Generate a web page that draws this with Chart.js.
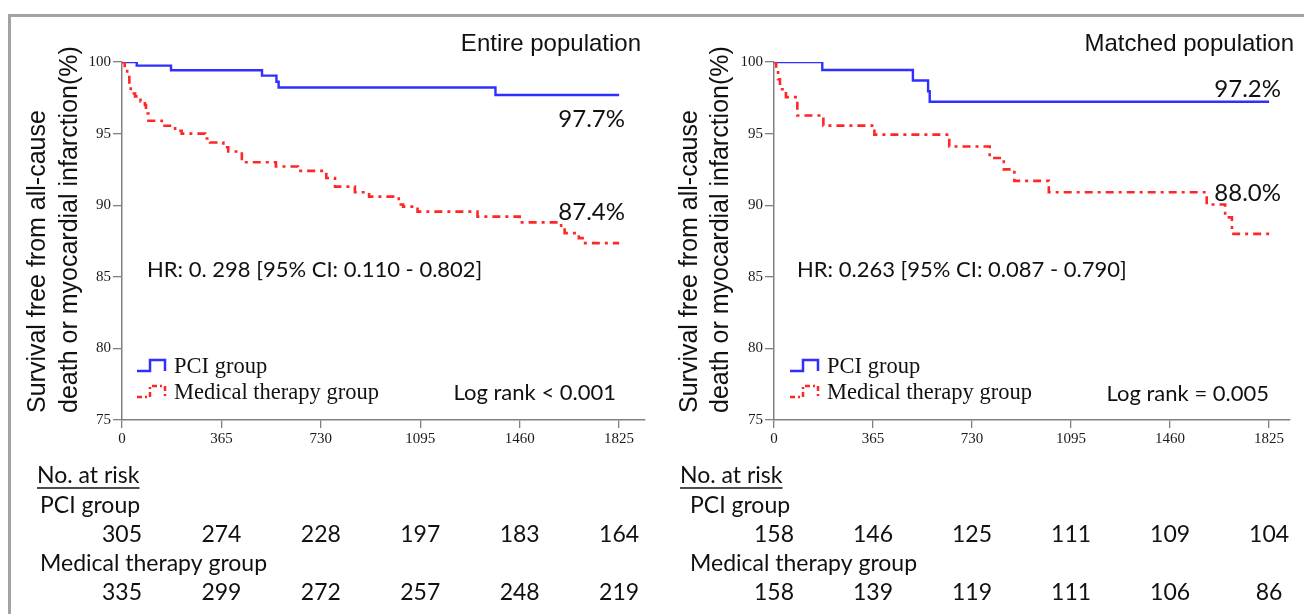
<!DOCTYPE html>
<html><head><meta charset="utf-8">
<script src="https://cdn.jsdelivr.net/npm/chart.js@4.4.1/dist/chart.umd.min.js"></script>
<style>
html,body{margin:0;padding:0;background:#fff;}
#wrap{position:relative;width:1304px;height:614px;overflow:hidden;background:#fff;}
#frame{position:absolute;left:8px;top:14px;width:1300px;height:610px;border-top:3px solid #a3a3a3;border-left:3px solid #a3a3a3;pointer-events:none;}
canvas{position:absolute;top:0;}
#c1{left:0}
#c2{left:655px}
</style></head><body>
<div id="wrap"><canvas id="c1" width="655" height="614"></canvas><canvas id="c2" width="649" height="614"></canvas><div id="frame"></div></div>
<script>
// ---------- data ----------
const timeTicks = [0, 365, 730, 1095, 1460, 1825];
const yTicks = [75, 80, 85, 90, 95, 100];

const entirePciTime = [0, 54, 180, 514, 567, 575, 1371, 1825];
const entirePciSurv = [100, 99.75, 99.42, 99.05, 98.62, 98.22, 97.7, 97.7];
const entireMedTime = [0, 10, 19, 27, 32, 48, 68, 84, 88, 97, 146, 195, 219, 305, 323, 372, 390, 440, 565, 646, 750, 782, 855, 907, 1016, 1032, 1085, 1305, 1460, 1612, 1625, 1677, 1691, 1825];
const entireMedSurv = [100, 99.6, 98.95, 98.4, 97.8, 97.6, 97.25, 97.0, 96.4, 95.9, 95.55, 95.2, 95.0, 94.66, 94.38, 94.05, 93.75, 93.0, 92.7, 92.4, 91.9, 91.3, 90.9, 90.6, 90.05, 89.9, 89.55, 89.2, 88.8, 88.4, 88.05, 87.7, 87.35, 87.35];

const matchedPciTime = [0, 178, 512, 568, 574, 1825];
const matchedPciSurv = [100, 99.44, 98.71, 97.96, 97.22, 97.22];
const matchedMedTime = [0, 8, 15, 22, 44, 86, 182, 370, 646, 795, 847, 886, 1013, 1595, 1663, 1688, 1825];
const matchedMedSurv = [100, 99.4, 98.8, 98.1, 97.55, 96.26, 95.56, 94.93, 94.1, 93.3, 92.5, 91.7, 90.9, 90.05, 89.15, 88.0, 88.0];

const entireRiskPci = [305, 274, 228, 197, 183, 164];
const entireRiskMed = [335, 299, 272, 257, 248, 219];
const matchedRiskPci = [158, 146, 125, 111, 109, 104];
const matchedRiskMed = [158, 139, 119, 111, 106, 86];

const groupNames = ['PCI group', 'Medical therapy group'];
const yTitle = ['Survival free from all-cause', 'death or myocardial infarction(%)'];

// ---------- styles ----------
const BLUE = '#2f2fff', RED = '#ff2626';
const SANS = 'Lato, "Noto Sans", sans-serif';
const ARIAL = '"Liberation Sans", Arial, sans-serif';
const SERIF = '"Liberation Serif", "Times New Roman", serif';

function pts(t, s) { return t.map((v, i) => ({x: v, y: s[i]})); }

function txt(ctx, s, x, y, font, align) {
  ctx.font = font; ctx.textAlign = align; ctx.textBaseline = 'middle';
  ctx.fillStyle = '#111'; ctx.fillText(s, x, y);
}
function stepIcon(ctx, x0, y0, color, dash, w) {
  ctx.save(); ctx.strokeStyle = color; ctx.lineWidth = w; ctx.setLineDash(dash);
  ctx.beginPath();
  ctx.moveTo(x0, y0 + 11); ctx.lineTo(x0 + 13, y0 + 11); ctx.lineTo(x0 + 13, y0);
  ctx.lineTo(x0 + 28, y0); ctx.lineTo(x0 + 28, y0 + 11);
  ctx.stroke(); ctx.restore();
}

const panelText = {
  id: 'panelText',
  afterDraw(chart, args, o) {
    const ctx = chart.ctx, xs = chart.scales.x;
    ctx.save();
    // y-axis title (two lines, rotated, bottom-aligned)
    yTitle.forEach((line, i) => {
      ctx.save();
      ctx.translate(o.ytX[i], o.ytBottom);
      ctx.rotate(-Math.PI / 2);
      txt(ctx, line, 0, 0, '25px ' + ARIAL, 'left');
      ctx.restore();
    });
    txt(ctx, o.title, o.titleX, o.titleY, '24px ' + ARIAL, 'right');
    txt(ctx, o.pctTop, o.pctX, o.pctTopY, '24px ' + SANS, 'right');
    txt(ctx, o.pctBot, o.pctX, o.pctBotY, '24px ' + SANS, 'right');
    txt(ctx, o.hr, o.hrX, o.hrY, '22px ' + SANS, 'left');
    txt(ctx, o.logrank, o.lrX, o.lrY, '22px ' + SANS, 'right');
    // legend
    stepIcon(ctx, o.legIconX, o.legY1 - 7, BLUE, [], 2.5);
    stepIcon(ctx, o.legIconX, o.legY2 - 7, RED, [5, 3, 2, 3], 2.5);
    txt(ctx, groupNames[0], o.legTextX, o.legY1, '22.5px ' + SERIF, 'left');
    txt(ctx, groupNames[1], o.legTextX, o.legY2, '22.5px ' + SERIF, 'left');
    // risk table
    const f = '23px ' + SANS;
    txt(ctx, 'No. at risk', o.headX, o.rowY[0], f, 'left');
    ctx.font = f;
    const w = ctx.measureText('No. at risk').width;
    ctx.strokeStyle = '#111'; ctx.lineWidth = 1.3; ctx.beginPath();
    ctx.moveTo(o.headX, o.rowY[0] + 12); ctx.lineTo(o.headX + w, o.rowY[0] + 12); ctx.stroke();
    txt(ctx, groupNames[0], o.labelX, o.rowY[1], f, 'left');
    txt(ctx, groupNames[1], o.labelX, o.rowY[3], f, 'left');
    timeTicks.forEach((t, i) => {
      const px = xs.getPixelForValue(t);
      txt(ctx, String(o.riskPci[i]), px, o.rowY[2], f, 'center');
      txt(ctx, String(o.riskMed[i]), px, o.rowY[4], f, 'center');
    });
    ctx.restore();
  }
};

function makePanel(id, pciT, pciS, medT, medS, yWidth, xMax, padRight, texts) {
  return new Chart(document.getElementById(id), {
    type: 'line',
    data: {
      datasets: [
        {data: pts(medT, medS), stepped: 'before', borderColor: RED, borderWidth: 2.6,
         borderDash: [8, 5, 3, 5], pointRadius: 0, fill: false},
        {data: pts(pciT, pciS), stepped: 'before', borderColor: BLUE, borderWidth: 2.4,
         pointRadius: 0, fill: false}
      ]
    },
    options: {
      responsive: false, animation: false, events: [],
      layout: {padding: {top: 62, right: padRight, bottom: 164, left: 0}},
      plugins: {legend: {display: false}, tooltip: {enabled: false}, title: {display: false},
                panelText: texts},
      scales: {
        x: {
          type: 'linear', min: 0, max: xMax,
          afterFit: s => { s.height = 30; },
          afterBuildTicks: s => { s.ticks = timeTicks.map(v => ({value: v})); },
          ticks: {font: {family: SERIF, size: 15}, color: '#1a1a1a', padding: 2, maxRotation: 0,
                  autoSkip: false, callback: v => String(v)},
          grid: {drawOnChartArea: false, drawTicks: true, tickLength: 8, color: '#808080', lineWidth: 1.3},
          border: {display: true, color: '#808080', width: 1.5}
        },
        y: {
          type: 'linear', min: 75, max: 100,
          afterFit: s => { s.width = yWidth; },
          afterBuildTicks: s => { s.ticks = yTicks.map(v => ({value: v})); },
          ticks: {font: {family: SERIF, size: 15}, color: '#1a1a1a', padding: 2, callback: v => String(v)},
          grid: {drawOnChartArea: false, drawTicks: true, tickLength: 9, color: '#808080', lineWidth: 1.3},
          border: {display: true, color: '#808080', width: 1.5},
          title: {display: false}
        }
      }
    },
    plugins: [panelText]
  });
}

makePanel('c1', entirePciTime, entirePciSurv, entireMedTime, entireMedSurv, 122, 1920, 10, {
  ytX: [38, 70], ytBottom: 413,
  title: 'Entire population', titleX: 641, titleY: 44,
  pctTop: '97.7%', pctBot: '87.4%', pctX: 625, pctTopY: 119, pctBotY: 212,
  hr: 'HR: 0. 298 [95% CI: 0.110 - 0.802]', hrX: 147, hrY: 270,
  logrank: 'Log rank < 0.001', lrX: 616, lrY: 393,
  legIconX: 137, legTextX: 174, legY1: 367, legY2: 393,
  headX: 37, labelX: 40, rowY: [476, 506, 535, 564, 593],
  riskPci: entireRiskPci, riskMed: entireRiskMed
});

makePanel('c2', matchedPciTime, matchedPciSurv, matchedMedTime, matchedMedSurv, 119, 1902, 14, {
  ytX: [35, 66], ytBottom: 413,
  title: 'Matched population', titleX: 639, titleY: 44,
  pctTop: '97.2%', pctBot: '88.0%', pctX: 626, pctTopY: 89, pctBotY: 193,
  hr: 'HR: 0.263 [95% CI: 0.087 - 0.790]', hrX: 142, hrY: 270,
  logrank: 'Log rank = 0.005', lrX: 614, lrY: 394,
  legIconX: 135, legTextX: 172, legY1: 367, legY2: 393,
  headX: 25, labelX: 35, rowY: [476, 506, 535, 564, 593],
  riskPci: matchedRiskPci, riskMed: matchedRiskMed
});
</script>
</body></html>
